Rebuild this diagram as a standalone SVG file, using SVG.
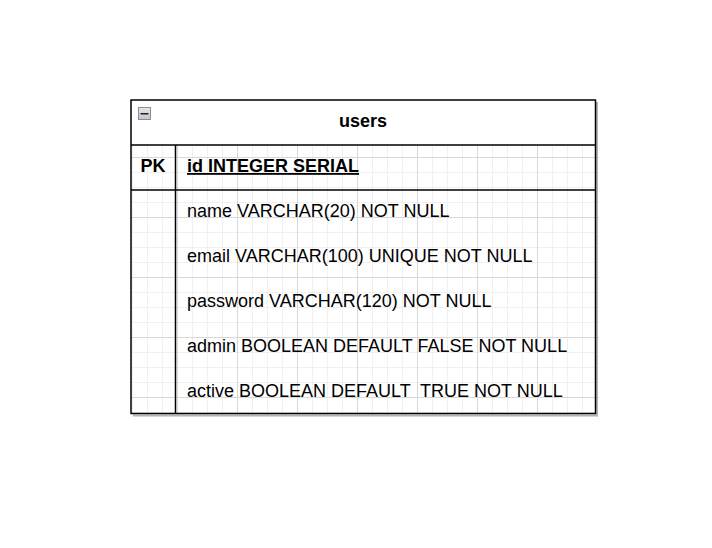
<svg xmlns="http://www.w3.org/2000/svg" width="712" height="548" viewBox="0 0 712 548">
  <defs>
    <style>
      .t { font-family: "Liberation Sans", Arial, sans-serif; font-size: 18px; fill: #000; }
      .b { font-weight: bold; }
      .u { text-decoration: underline; }
      .minor { stroke: #f0f0f0; stroke-width: 1; fill: none; }
      .major { stroke: #d8d8d8; stroke-width: 1; fill: none; }
      .edge { stroke: #000; stroke-width: 1.5; fill: none; }
    </style>
    <clipPath id="gridClip">
      <rect x="131" y="145" width="468" height="272"/>
    </clipPath>
    <linearGradient id="iconGrad" x1="0" y1="0" x2="0" y2="1">
      <stop offset="0" stop-color="#e6e6ec"/>
      <stop offset="1" stop-color="#c4c4cc"/>
    </linearGradient>
  </defs>
  <rect x="0" y="0" width="712" height="548" fill="#ffffff"/>

  <g id="grid" clip-path="url(#gridClip)">
    <path class="minor" d="M132.5 140V420M147.5 140V420M162.5 140V420M192.5 140V420M207.5 140V420M222.5 140V420M252.5 140V420M267.5 140V420M282.5 140V420M312.5 140V420M327.5 140V420M342.5 140V420M372.5 140V420M387.5 140V420M402.5 140V420M432.5 140V420M447.5 140V420M462.5 140V420M492.5 140V420M507.5 140V420M522.5 140V420M552.5 140V420M567.5 140V420M582.5 140V420"/>
    <path class="minor" d="M128 172.5H602M128 187.5H602M128 202.5H602M128 232.5H602M128 247.5H602M128 262.5H602M128 292.5H602M128 307.5H602M128 322.5H602M128 352.5H602M128 367.5H602M128 382.5H602M128 412.5H602"/>
    <path class="major" d="M177.5 140V420M237.5 140V420M297.5 140V420M357.5 140V420M417.5 140V420M477.5 140V420M537.5 140V420M597.5 140V420"/>
    <path class="major" d="M128 157.5H602M128 217.5H602M128 277.5H602M128 337.5H602M128 397.5H602"/>
  </g>

  <g id="users">
    <path d="M597 102V415.5H133" stroke="#b4b4b4" stroke-width="2" fill="none"/>
    <rect x="131" y="100" width="464.5" height="45" fill="#ffffff"/>
    <rect class="edge" x="131" y="100" width="464.5" height="313.5"/>
    <path class="edge" d="M131 145H595.5M131 190H595.5M175.5 145V413.5"/>
    <g id="users-collapse">
      <rect x="138.5" y="107.5" width="12" height="12" fill="url(#iconGrad)" stroke="#8c8c98" stroke-width="1"/>
      <path d="M140.5 113.75H148.5" stroke="#222" stroke-width="1.5"/>
    </g>
    <text class="t b" x="363" y="127" text-anchor="middle">users</text>
    <g id="row-id">
      <text class="t b" x="153" y="172" text-anchor="middle">PK</text>
      <text class="t b u" x="187" y="172">id INTEGER SERIAL</text>
    </g>
    <g id="row-name"><text class="t" x="187" y="217">name VARCHAR(20) NOT NULL</text></g>
    <g id="row-email"><text class="t" x="187" y="262">email VARCHAR(100) UNIQUE NOT NULL</text></g>
    <g id="row-password"><text class="t" x="187" y="307">password VARCHAR(120) NOT NULL</text></g>
    <g id="row-admin"><text class="t" x="187" y="352">admin BOOLEAN DEFAULT FALSE NOT NULL</text></g>
    <g id="row-active"><text class="t" x="187" y="397" xml:space="preserve">active BOOLEAN DEFAULT  TRUE NOT NULL</text></g>
  </g>

  <g id="connectors"/>
</svg>
